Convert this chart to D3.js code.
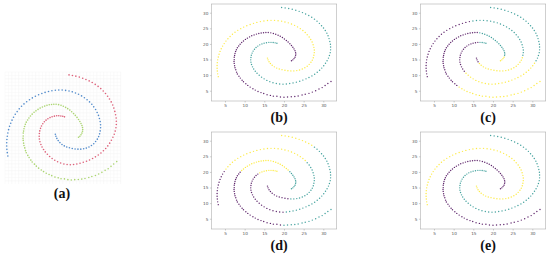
<!DOCTYPE html>
<html><head><meta charset="utf-8">
<script src="https://cdn.jsdelivr.net/npm/d3@7"></script>
<style>html,body{margin:0;padding:0;background:#fff;}svg{display:block;}</style>
</head><body>
<svg id="chart" width="550" height="259"></svg>
<script>
// Spiral arms (ordered from outer end to inner end)
const armA = [[31.95,7.95],[31.15,7.3],[30.45,6.65],[29.7,6],[28.9,5.55],[28.05,5],[27.2,4.55],[26.35,4.15],[25.4,3.85],[24.6,3.6],[23.6,3.3],[22.75,3.15],[21.85,3.05],[20.9,3],[20,2.9],[19.1,3],[18.2,3.2],[17.3,3.25],[16.55,3.5],[15.7,3.7],[14.85,4.1],[14.15,4.4],[13.4,4.75],[12.7,5.2],[12.1,5.65],[11.4,6.15],[10.8,6.7],[10.3,7.25],[9.7,7.85],[9.35,8.35],[8.9,9.05],[8.55,9.65],[8.15,10.35],[7.95,10.95],[7.75,11.7],[7.55,12.35],[7.45,13],[7.35,13.75],[7.3,14.35],[7.35,14.95],[7.35,15.75],[7.45,16.3],[7.55,16.95],[7.7,17.55],[7.9,18.15],[8.15,18.75],[8.5,19.35],[8.85,19.9],[9.25,20.45],[9.7,20.95],[10.2,21.45],[10.7,21.85],[11.25,22.25],[11.8,22.6],[12.4,22.9],[13,23.15],[13.6,23.35],[14.2,23.5],[14.8,23.6],[15.4,23.65],[16,23.65],[16.65,23.55],[17.3,23.35],[17.9,23.1],[18.5,22.8],[19.05,22.45],[19.6,22.05],[20.1,21.6],[20.6,21.1],[21.05,20.6],[21.5,20.05],[21.9,19.5],[22.25,18.95],[22.55,18.4],[22.8,17.85],[22.95,17.3],[23,16.75],[22.95,16.25],[22.8,15.75],[22.55,15.3],[22.25,14.9],[21.9,14.6]];
const armB = [[19.4,31.7],[20.3,31.55],[21.2,31.35],[22.1,31.1],[23,30.8],[23.85,30.45],[24.7,30.05],[25.5,29.6],[26.3,29.1],[27.05,28.55],[27.75,27.95],[28.4,27.3],[29,26.6],[29.55,25.85],[30.05,25.1],[30.5,24.3],[30.9,23.45],[31.2,22.6],[31.45,21.7],[31.65,20.8],[31.8,19.9],[31.85,19],[31.85,18.1],[31.75,17.2],[31.55,16.3],[31.3,15.45],[30.95,14.6],[30.55,13.8],[30.1,13],[29.6,12.25],[29.05,11.55],[28.45,10.9],[27.8,10.3],[27.1,9.75],[26.35,9.25],[25.6,8.8],[24.8,8.4],[24,8.05],[23.15,7.75],[22.3,7.5],[21.45,7.3],[20.6,7.15],[19.75,7.1],[18.9,7.15],[18.05,7.3],[17.2,7.55],[16.4,7.9],[15.65,8.3],[14.95,8.8],[14.3,9.35],[13.7,9.95],[13.15,10.6],[12.7,11.25],[12.3,11.95],[12,12.65],[11.75,13.4],[11.6,14.15],[11.55,14.9],[11.6,15.65],[11.7,16.35],[11.9,17.05],[12.15,17.7],[12.5,18.3],[12.9,18.85],[13.35,19.3],[13.85,19.7],[14.4,20],[14.95,20.25],[15.55,20.4],[16.15,20.5],[16.7,20.5],[17.25,20.45],[17.75,20.35],[18.2,20.2]];
const armC = [[3.3,9.5],[3.15,10.4],[3.05,11.3],[3,12.2],[3,13.1],[3.05,14],[3.15,14.9],[3.3,15.8],[3.5,16.7],[3.75,17.6],[4.05,18.45],[4.4,19.3],[4.8,20.1],[5.25,20.9],[5.75,21.65],[6.3,22.4],[6.9,23.1],[7.55,23.75],[8.25,24.35],[9,24.9],[9.75,25.4],[10.55,25.85],[11.4,26.25],[12.25,26.6],[13.1,26.9],[14,27.15],[14.9,27.35],[15.8,27.5],[16.7,27.55],[17.6,27.55],[18.5,27.45],[19.4,27.3],[20.25,27.05],[21.1,26.75],[21.9,26.4],[22.7,25.95],[23.45,25.45],[24.15,24.9],[24.8,24.3],[25.4,23.65],[25.9,22.95],[26.4,22.2],[26.8,21.4],[27.15,20.6],[27.4,19.75],[27.6,18.9],[27.7,18.05],[27.7,17.2],[27.6,16.35],[27.45,15.55],[27.2,14.8],[26.85,14.1],[26.4,13.45],[25.9,12.85],[25.3,12.35],[24.65,11.95],[23.95,11.65],[23.25,11.45],[22.5,11.35],[21.75,11.35],[21,11.4],[20.25,11.55],[19.5,11.75],[18.8,11.95],[18.15,12.25],[17.55,12.65],[17,13.15],[16.55,13.7],[16.2,14.3],[15.95,14.9],[15.8,15.45]];

// Cluster assignments per panel: [arm, firstIndex, lastIndex, cluster]
const labelsB = [["A",0,81,0],["B",0,73,1],["C",0,70,2]];
const labelsC = [["A",0,25,2],["A",26,60,0],["A",61,77,1],["A",78,81,2],
                 ["B",0,26,1],["B",27,51,2],["B",52,69,0],["B",70,73,1],
                 ["C",0,25,0],["C",26,48,1],["C",49,67,2],["C",68,70,0]];
const labelsD = [["A",0,14,1],["A",15,47,0],["A",48,69,2],["A",70,81,1],
                 ["B",0,9,2],["B",10,41,1],["B",42,64,0],["B",65,73,2],
                 ["C",0,12,0],["C",13,39,2],["C",40,59,1],["C",60,70,0]];
const labelsE = [["A",0,81,0],["B",0,73,1],["C",0,70,2]];

const tickValues = [5,10,15,20,25,30];
const panelNames = ["(a)","(b)","(c)","(d)","(e)"];
const viridis3 = ["#440154","#21918c","#fde725"];
const truthColors = {A:"#a2d062", B:"#d9506b", C:"#4080c6"};

const arms = {A:armA, B:armB, C:armC};
const svg = d3.select("#chart");
const labelFont = "'Liberation Serif','DejaVu Serif',serif";

// ---------- Panel (a): ground truth ----------
const ax = d3.scaleLinear().domain([0,32]).range([-4.7,116.9]);
const ay = d3.scaleLinear().domain([0,32]).range([190.6,73.8]);
const ga = svg.append("g");
const gridStep = 3.4;
const gx0 = 5, gx1 = 121, gy0 = 72, gy1 = 184;
const gxs = d3.range(gx0, gx1+0.01, gridStep), gys = d3.range(gy0, gy1+0.01, gridStep);
ga.selectAll("line.gv").data(gxs).join("line").attr("x1",d=>d).attr("x2",d=>d).attr("y1",gy0).attr("y2",gy1)
  .attr("stroke","#f5f5f5").attr("stroke-width",0.5);
ga.selectAll("line.gh").data(gys).join("line").attr("y1",d=>d).attr("y2",d=>d).attr("x1",gx0).attr("x2",gx1)
  .attr("stroke","#f5f5f5").attr("stroke-width",0.5);
["A","B","C"].forEach(k=>{
  ga.append("g").selectAll("circle").data(arms[k]).join("circle")
    .attr("cx",d=>ax(d[0])).attr("cy",d=>ay(d[1])).attr("r",0.8)
    .attr("fill",truthColors[k]).attr("fill-opacity",0.9);
});
svg.append("text").attr("x",62).attr("y",198).attr("text-anchor","middle")
  .attr("font-family",labelFont).attr("font-weight","bold").attr("font-size",14)
  .attr("fill","#111").text(panelNames[0]);

// ---------- Panels (b)-(e) ----------
const panels = [
  {labels:labelsB, dx:0,   dy:0,   name:panelNames[1]},
  {labels:labelsC, dx:209, dy:0,   name:panelNames[2]},
  {labels:labelsD, dx:0,   dy:128, name:panelNames[3]},
  {labels:labelsE, dx:209, dy:128, name:panelNames[4]}
];
panels.forEach(p=>{
  const x = d3.scaleLinear().domain([1.55,33.4]).range([211.4+p.dx, 336.7+p.dx]);
  const y = d3.scaleLinear().domain([1.7,32.8]).range([101+p.dy, 4+p.dy]);
  const g = svg.append("g");
  g.append("rect").attr("x",x.range()[0]).attr("y",y.range()[1])
    .attr("width",x.range()[1]-x.range()[0]).attr("height",y.range()[0]-y.range()[1])
    .attr("fill","#fff").attr("stroke","#b0b0b0").attr("stroke-width",0.6);
  const xa = g.append("g").attr("transform",`translate(0,${y.range()[0]})`)
    .call(d3.axisBottom(x).tickValues(tickValues).tickSize(1.5).tickPadding(1.5));
  const ya = g.append("g").attr("transform",`translate(${x.range()[0]},0)`)
    .call(d3.axisLeft(y).tickValues(tickValues).tickSize(1.5).tickPadding(1.5));
  [xa,ya].forEach(a=>{
    a.select(".domain").remove();
    a.selectAll("line").attr("stroke","#888").attr("stroke-width",0.4);
    a.selectAll("text").attr("font-size",4.2).attr("font-family","DejaVu Sans, sans-serif").attr("fill","#555");
  });
  const pts = [];
  p.labels.forEach(([arm,i0,i1,c])=>{
    for(let i=i0;i<=i1;i++){ pts.push({p:arms[arm][i], c}); }
  });
  g.append("g").selectAll("circle").data(pts).join("circle")
    .attr("cx",d=>x(d.p[0])).attr("cy",d=>y(d.p[1])).attr("r",0.7)
    .attr("fill",d=>viridis3[d.c]).attr("fill-opacity",0.85);
  svg.append("text").attr("x",(x.range()[0]+x.range()[1])/2+5).attr("y",122+p.dy).attr("text-anchor","middle")
    .attr("font-family",labelFont).attr("font-weight","bold").attr("font-size",14)
    .attr("fill","#111").text(p.name);
});
</script>
</body></html>
